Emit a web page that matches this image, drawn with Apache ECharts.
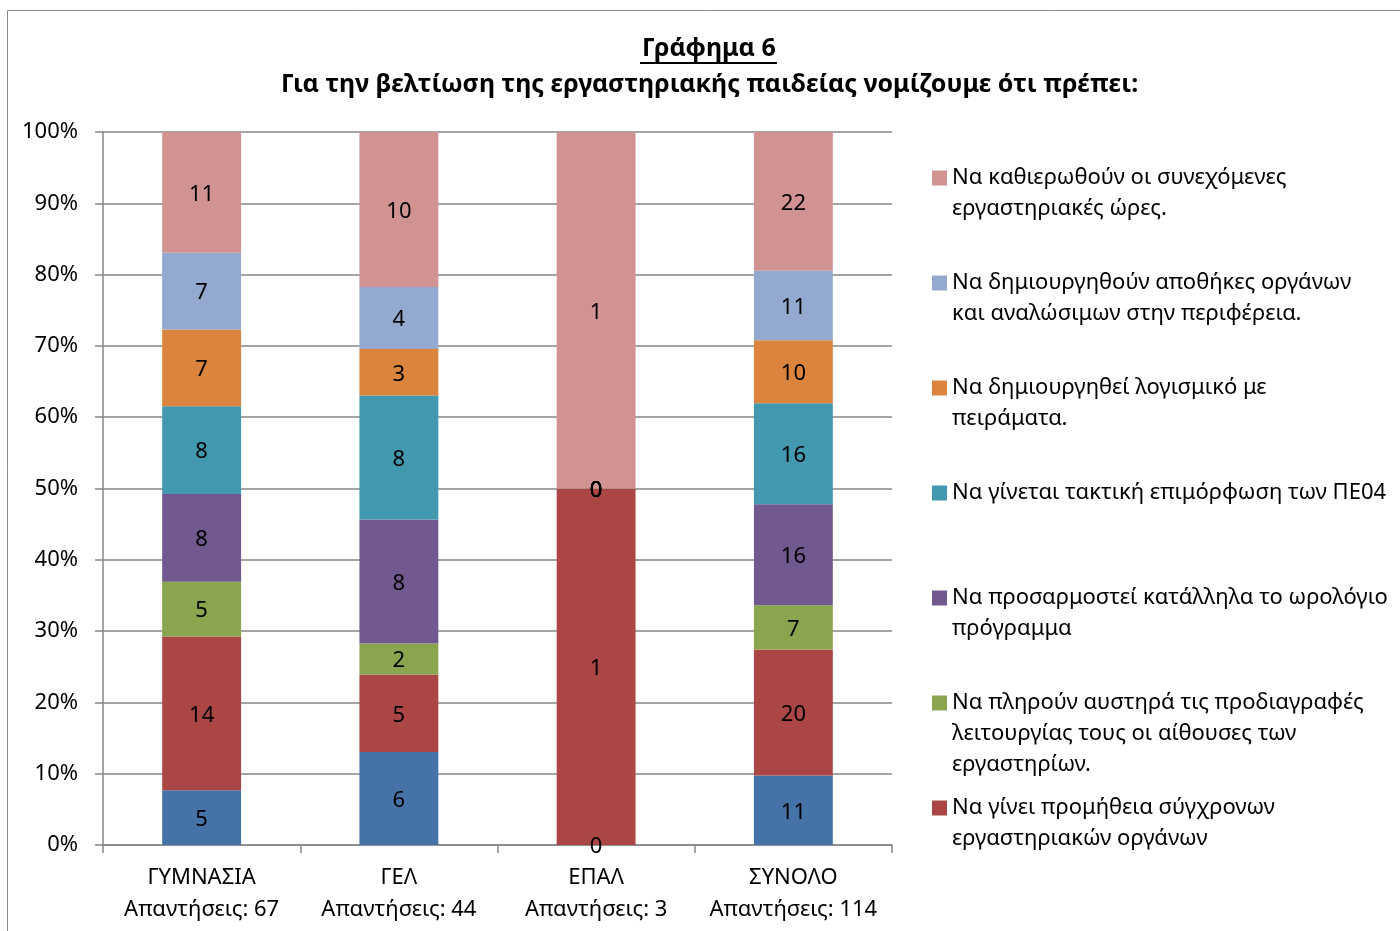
<!DOCTYPE html>
<html><head><meta charset="utf-8">
<script src="https://cdn.jsdelivr.net/npm/echarts@6/dist/echarts.min.js"></script>
<style>html,body{margin:0;padding:0;background:#fff}#c{width:1400px;height:931px}</style>
</head><body><div id="c"></div>
<script>
const categories = ['ΓΥΜΝΑΣΙΑ\nΑπαντήσεις: 67', 'ΓΕΛ\nΑπαντήσεις: 44', 'ΕΠΑΛ\nΑπαντήσεις: 3', 'ΣΥΝΟΛΟ\nΑπαντήσεις: 114'];
const seriesNames = [
  'Να γίνει προμήθεια σύγχρονων εργαστηριακών οργάνων (α)',
  'Να γίνει προμήθεια σύγχρονων\nεργαστηριακών οργάνων',
  'Να πληρούν αυστηρά τις προδιαγραφές\nλειτουργίας τους οι αίθουσες των\nεργαστηρίων.',
  'Να προσαρμοστεί κατάλληλα το ωρολόγιο\nπρόγραμμα',
  'Να γίνεται τακτική επιμόρφωση των ΠΕ04',
  'Να δημιουργηθεί λογισμικό με\nπειράματα.',
  'Να δημιουργηθούν αποθήκες οργάνων\nκαι αναλώσιμων στην περιφέρεια.',
  'Να καθιερωθούν οι συνεχόμενες\nεργαστηριακές ώρες.'
];
const blueValues      = [5, 6, 0, 11];
const redValues       = [14, 5, 1, 20];
const greenValues     = [5, 2, 0, 7];
const purpleValues    = [8, 8, 0, 16];
const tealValues      = [8, 8, 0, 16];
const orangeValues    = [7, 3, 0, 10];
const lightBlueValues = [7, 4, 0, 11];
const pinkValues      = [11, 10, 1, 22];
const yTicks = [0, 10, 20, 30, 40, 50, 60, 70, 80, 90, 100];

const allValues = [blueValues, redValues, greenValues, purpleValues, tealValues, orangeValues, lightBlueValues, pinkValues];
const colors = ['#4572A7', '#AA4643', '#89A54E', '#71588F', '#4198AF', '#DB843D', '#93A9CF', '#D19392'];
const totals = categories.map((c, i) => allValues.reduce((s, a) => s + a[i], 0));
const FONT = 'Noto Sans';
const FS = 22;

const series = allValues.map((vals, si) => ({
  name: seriesNames[si],
  type: 'bar',
  stack: 'all',
  barWidth: '40%',
  itemStyle: { color: colors[si] },
  label: {
    show: true, position: 'inside', offset: [0, 2], color: '#000', fontFamily: FONT, fontSize: FS,
    formatter: p => String(vals[p.dataIndex])
  },
  emphasis: { disabled: true },
  data: vals.map((v, i) => v / totals[i] * 100)
}));

// legend: one component per entry, top-down order
const legendOrder = [7, 6, 5, 4, 3, 2, 1];
const LH = 31;
const legends = legendOrder.map((si, k) => {
  const n = seriesNames[si].split('\n').length;
  const firstLineY = 178 + k * 105;
  return {
    data: [seriesNames[si]],
    orient: 'vertical', left: 932, top: firstLineY - (2 * n - 1) * LH / 2,
    padding: 0, itemWidth: 15, itemHeight: 15, itemGap: 0, icon: 'rect',
    selectedMode: false,
    formatter: name => '\n'.repeat(n - 1) + name,
    textStyle: { fontFamily: FONT, fontSize: FS, color: '#000', lineHeight: LH }
  };
});

const chart = echarts.init(document.getElementById('c'));
chart.setOption({
  animation: false,
  backgroundColor: '#fff',
  title: [
    { text: 'Γράφημα 6', left: 642, top: 36, padding: 0, itemGap: 0,
      textStyle: { fontFamily: FONT, fontSize: 25, fontWeight: 'bold', color: '#000' } },
    { text: 'Για την βελτίωση της εργαστηριακής παιδείας νομίζουμε ότι πρέπει:', left: 281, top: 72, padding: 0,
      textStyle: { fontFamily: FONT, fontSize: 25, fontWeight: 'bold', color: '#000' } }
  ],
  graphic: [
    { type: 'rect', shape: { x: 7.5, y: 10.5, width: 1400, height: 930 }, style: { fill: 'none', stroke: '#8a8a8a', lineWidth: 1 }, silent: true },
    { type: 'line', shape: { x1: 640, y1: 63, x2: 777, y2: 63 }, style: { stroke: '#000', lineWidth: 2 }, silent: true }
  ],
  legend: legends,
  grid: { left: 103, right: 508, top: 132, bottom: 86 },
  xAxis: {
    type: 'category', data: categories,
    axisLine: { lineStyle: { color: '#868686', width: 1.5 } },
    axisTick: { show: true, length: 8, alignWithLabel: false, lineStyle: { color: '#868686', width: 1.5 } },
    axisLabel: { fontFamily: FONT, fontSize: FS, color: '#000', lineHeight: 32, margin: 17, interval: 0 }
  },
  yAxis: {
    type: 'value', min: yTicks[0], max: yTicks[yTicks.length - 1], interval: 10,
    axisLine: { show: true, lineStyle: { color: '#868686', width: 1.5 } },
    axisTick: { show: true, length: 8, lineStyle: { color: '#868686', width: 1.5 } },
    splitLine: { lineStyle: { color: '#868686', width: 1.5 } },
    axisLabel: { fontFamily: FONT, fontSize: FS, color: '#000', margin: 25, formatter: '{value}%' }
  },
  series: series
});
</script></body></html>
